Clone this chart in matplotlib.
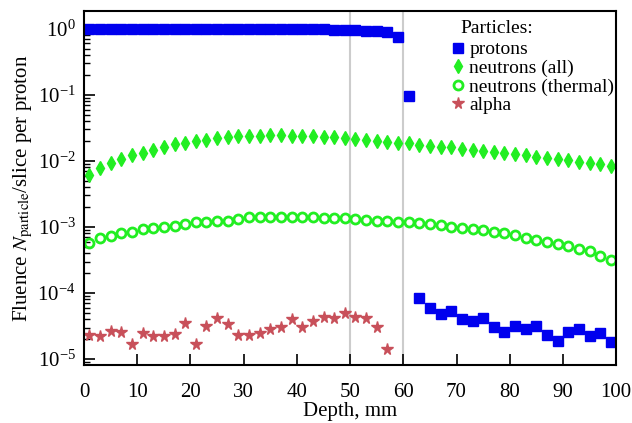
import numpy as np
import matplotlib
matplotlib.use("Agg")
import matplotlib.pyplot as plt
from matplotlib.ticker import LogLocator, NullFormatter

plt.rcParams['font.family'] = ['Liberation Serif', 'DejaVu Serif']
plt.rcParams['mathtext.fontset'] = 'stix'

# Data (depth in mm, fluence per slice per proton)
depth = np.arange(1, 100, 2)

protons = [0.99, 0.99, 0.99, 0.99, 0.99, 0.99, 0.99, 0.99, 0.99, 0.99,
           0.99, 0.99, 0.99, 0.99, 0.99, 0.99, 0.99, 0.99, 0.99, 0.99,
           0.98, 0.98, 0.98, 0.97, 0.97, 0.96, 0.94, 0.93, 0.89, 0.74,
           0.097, 8.4e-5, 5.9e-5, 4.8e-5, 5.4e-5, 4.0e-5, 3.8e-5, 4.2e-5, 3.1e-5, 2.6e-5,
           3.2e-5, 2.9e-5, 3.2e-5, 2.3e-5, 1.9e-5, 2.6e-5, 2.9e-5, 2.2e-5, 2.5e-5, 1.8e-5]

neutrons_all = [6.1e-3, 7.8e-3, 9.2e-3, 1.06e-2, 1.23e-2, 1.34e-2, 1.47e-2, 1.65e-2, 1.79e-2, 1.90e-2,
                2.03e-2, 2.1e-2, 2.2e-2, 2.3e-2, 2.35e-2, 2.4e-2, 2.4e-2, 2.45e-2, 2.45e-2, 2.4e-2,
                2.4e-2, 2.35e-2, 2.3e-2, 2.3e-2, 2.2e-2, 2.15e-2, 2.05e-2, 2.0e-2, 1.95e-2, 1.9e-2,
                1.84e-2, 1.75e-2, 1.7e-2, 1.65e-2, 1.6e-2, 1.52e-2, 1.47e-2, 1.43e-2, 1.36e-2, 1.31e-2,
                1.26e-2, 1.21e-2, 1.16e-2, 1.10e-2, 1.06e-2, 1.02e-2, 9.8e-3, 9.4e-3, 9.0e-3, 8.5e-3]

neutrons_thermal = [5.7e-4, 6.7e-4, 7.3e-4, 8.0e-4, 8.5e-4, 9.2e-4, 9.5e-4, 1.01e-3, 1.05e-3, 1.1e-3,
                    1.17e-3, 1.2e-3, 1.23e-3, 1.25e-3, 1.3e-3, 1.4e-3, 1.4e-3, 1.42e-3, 1.42e-3, 1.41e-3,
                    1.4e-3, 1.4e-3, 1.38e-3, 1.37e-3, 1.35e-3, 1.3e-3, 1.28e-3, 1.25e-3, 1.22e-3, 1.2e-3,
                    1.18e-3, 1.13e-3, 1.11e-3, 1.06e-3, 1.01e-3, 9.5e-4, 9.2e-4, 8.9e-4, 8.5e-4, 8.1e-4,
                    7.5e-4, 6.7e-4, 6.3e-4, 5.9e-4, 5.6e-4, 5.1e-4, 4.7e-4, 4.3e-4, 3.7e-4, 3.2e-4]

alpha_depth = np.arange(1, 58, 2)
alpha = [2.3e-5, 2.2e-5, 2.7e-5, 2.6e-5, 1.7e-5, 2.5e-5, 2.2e-5, 2.2e-5, 2.4e-5, 3.5e-5,
         1.7e-5, 3.2e-5, 4.2e-5, 3.4e-5, 2.3e-5, 2.3e-5, 2.5e-5, 2.9e-5, 3.1e-5, 4.0e-5,
         3.1e-5, 3.8e-5, 4.4e-5, 4.2e-5, 5.0e-5, 4.3e-5, 4.2e-5, 3.1e-5, 1.4e-5]

fig = plt.figure(figsize=(6.32, 4.23), dpi=100)
ax = fig.add_axes([0.133, 0.137, 0.842, 0.837])

# Bragg peak / end-of-range markers
for xv in (50, 60):
    ax.axvline(xv, color='#cccccc', lw=1.5, zorder=0)

ax.plot(depth, protons, 's', color='#0000ee', ms=7.5, mec='#0000ee', label='protons')
ax.plot(depth, neutrons_all, 'd', color='#22ee22', ms=7.5, mec='#22ee22', label='neutrons (all)')
ax.plot(depth, neutrons_thermal, 'o', mfc='none', mec='#22ee22', ms=6.5, mew=2, label='neutrons (thermal)')
ax.plot(alpha_depth, alpha, '*', color='#c8505a', ms=8.5, label='alpha')

ax.set_yscale('log')
ax.set_xlim(0, 100)
ax.set_ylim(10 ** -5.09, 10 ** 0.27)
ax.set_xticks(range(0, 101, 10))
ax.yaxis.set_major_locator(LogLocator(base=10, numticks=10))
ax.yaxis.set_minor_locator(LogLocator(base=10, subs=np.arange(2, 10), numticks=20))
ax.yaxis.set_minor_formatter(NullFormatter())
ax.tick_params(which='major', direction='in', length=8, width=1.2, labelsize=15, pad=6)
ax.tick_params(which='minor', direction='in', length=4, width=1)
ax.tick_params(axis='x', which='major', pad=13)

for sp in ax.spines.values():
    sp.set_linewidth(1.5)

ax.set_xlabel('Depth, mm', fontsize=15, labelpad=0)
ax.set_ylabel(r'Fluence $N_{\mathrm{particle}}$/slice per proton', fontsize=15, labelpad=2)

ax.text(0.707, 0.95, 'Particles:', transform=ax.transAxes, fontsize=14,
        ha='left', va='center')
ax.legend(loc='upper left', bbox_to_anchor=(0.691, 0.916),
          frameon=False, fontsize=14, handlelength=0.6, borderpad=0,
          handletextpad=0.3, labelspacing=0.05, borderaxespad=0)

fig.savefig('out.png', dpi=100)
